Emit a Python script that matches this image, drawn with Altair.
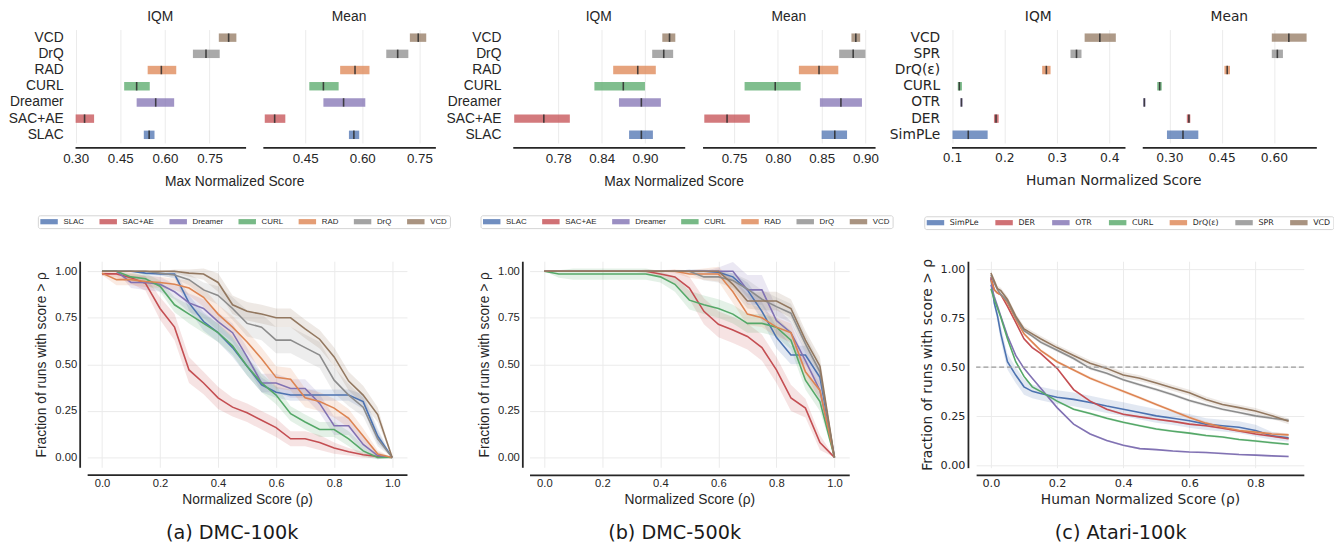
import altair as alt
import pandas as pd

# ---------------- categories ----------------
DMC_METHODS = ["VCD", "DrQ", "RAD", "CURL", "Dreamer", "SAC+AE", "SLAC"]
ATARI_METHODS = ["VCD", "SPR", "DrQ(ε)", "CURL", "OTR", "DER", "SimPLe"]
DMC_LEGEND = ["SLAC", "SAC+AE", "Dreamer", "CURL", "RAD", "DrQ", "VCD"]
ATARI_LEGEND = ["SimPLe", "DER", "OTR", "CURL", "DrQ(ε)", "SPR", "VCD"]
PALETTE = ["#4C72B0", "#C44E52", "#8172B3", "#55A868", "#DD8452", "#8C8C8C", "#937860"]

# ---------------- interval estimates (rows top -> bottom) ----------------
A_IQM_LO = [0.781, 0.694, 0.542, 0.463, 0.505, 0.300, 0.529]
A_IQM_HI = [0.840, 0.784, 0.638, 0.549, 0.631, 0.362, 0.565]
A_IQM_MID = [0.814, 0.738, 0.588, 0.505, 0.569, 0.330, 0.547]
A_MEAN_LO = [0.725, 0.663, 0.542, 0.461, 0.498, 0.344, 0.565]
A_MEAN_HI = [0.768, 0.721, 0.619, 0.538, 0.608, 0.398, 0.592]
A_MEAN_MID = [0.747, 0.693, 0.581, 0.498, 0.551, 0.370, 0.578]

B_IQM_LO = [0.924, 0.910, 0.856, 0.830, 0.864, 0.719, 0.878]
B_IQM_HI = [0.942, 0.939, 0.915, 0.900, 0.922, 0.796, 0.911]
B_IQM_MID = [0.934, 0.926, 0.890, 0.870, 0.895, 0.760, 0.895]
B_MEAN_LO = [0.884, 0.870, 0.824, 0.762, 0.848, 0.716, 0.850]
B_MEAN_HI = [0.894, 0.900, 0.869, 0.826, 0.896, 0.768, 0.879]
B_MEAN_MID = [0.889, 0.886, 0.847, 0.797, 0.872, 0.742, 0.865]

C_IQM_LO = [0.353, 0.326, 0.272, 0.111, 0.116, 0.180, 0.101]
C_IQM_HI = [0.4125, 0.347, 0.288, 0.119, 0.120, 0.189, 0.168]
C_IQM_MID = [0.382, 0.3375, 0.280, 0.114, 0.118, 0.184, 0.131]
C_MEAN_LO = [0.594, 0.594, 0.458, 0.265, 0.225, 0.350, 0.293]
C_MEAN_HI = [0.694, 0.626, 0.474, 0.278, 0.231, 0.360, 0.383]
C_MEAN_MID = [0.643, 0.610, 0.466, 0.272, 0.228, 0.356, 0.339]

# tick labels
A_IQM_TICKS = [0.30, 0.45, 0.60, 0.75]
A_MEAN_TICKS = [0.45, 0.60, 0.75]
B_IQM_TICKS = [0.78, 0.84, 0.90]
B_MEAN_TICKS = [0.75, 0.80, 0.85, 0.90]
C_IQM_TICKS = [0.1, 0.2, 0.3, 0.4]
C_MEAN_TICKS = [0.30, 0.45, 0.60]
PROFILE_X_TICKS = [0.0, 0.2, 0.4, 0.6, 0.8, 1.0]
ATARI_X_TICKS = [0.0, 0.2, 0.4, 0.6, 0.8]
PROFILE_Y_TICKS = [0.0, 0.25, 0.5, 0.75, 1.0]

# ---------------- performance profiles ----------------
TAU_DMC = [0.0, 0.05, 0.1, 0.15, 0.2, 0.25, 0.3, 0.35, 0.4, 0.45, 0.5,
           0.55, 0.6, 0.65, 0.7, 0.75, 0.8, 0.85, 0.9, 0.95, 1.0]

A_CURVES = {
    "SLAC":    [1.0, 1.0, 1.0, 0.99, 0.985, 0.985, 0.83, 0.73, 0.67, 0.59, 0.49, 0.39, 0.35, 0.335, 0.335, 0.335, 0.335, 0.335, 0.30, 0.115, 0.0],
    "SAC+AE":  [0.986, 0.986, 0.965, 0.935, 0.80, 0.70, 0.47, 0.40, 0.32, 0.27, 0.24, 0.20, 0.16, 0.10, 0.10, 0.08, 0.05, 0.03, 0.014, 0.005, 0.0],
    "Dreamer": [1.0, 1.0, 0.94, 0.94, 0.93, 0.89, 0.83, 0.80, 0.73, 0.67, 0.54, 0.40, 0.40, 0.37, 0.37, 0.29, 0.17, 0.17, 0.07, 0.01, 0.0],
    "CURL":    [1.0, 1.0, 0.97, 0.96, 0.92, 0.82, 0.77, 0.72, 0.67, 0.60, 0.49, 0.40, 0.335, 0.235, 0.19, 0.15, 0.15, 0.10, 0.035, 0.0, 0.0],
    "RAD":     [0.99, 0.955, 0.955, 0.945, 0.94, 0.93, 0.91, 0.86, 0.77, 0.70, 0.62, 0.53, 0.43, 0.42, 0.32, 0.30, 0.265, 0.21, 0.115, 0.018, 0.0],
    "DrQ":     [1.0, 1.0, 1.0, 1.0, 0.99, 0.98, 0.955, 0.90, 0.87, 0.80, 0.72, 0.70, 0.63, 0.63, 0.59, 0.55, 0.415, 0.335, 0.27, 0.10, 0.0],
    "VCD":     [1.0, 1.0, 1.0, 1.0, 1.0, 1.0, 0.99, 0.985, 0.94, 0.82, 0.785, 0.77, 0.75, 0.75, 0.69, 0.635, 0.54, 0.41, 0.335, 0.23, 0.0],
}
A_BANDS = {
    "SLAC":    [0.0, 0.0, 0.0, 0.01, 0.01, 0.02, 0.04, 0.05, 0.05, 0.05, 0.05, 0.04, 0.03, 0.03, 0.03, 0.03, 0.03, 0.03, 0.04, 0.04, 0.0],
    "SAC+AE":  [0.01, 0.02, 0.03, 0.04, 0.06, 0.07, 0.07, 0.06, 0.06, 0.05, 0.05, 0.05, 0.05, 0.04, 0.04, 0.04, 0.03, 0.02, 0.015, 0.01, 0.0],
    "Dreamer": [0.0, 0.0, 0.03, 0.04, 0.04, 0.04, 0.05, 0.05, 0.05, 0.05, 0.05, 0.05, 0.05, 0.05, 0.05, 0.05, 0.05, 0.05, 0.04, 0.02, 0.0],
    "CURL":    [0.0, 0.0, 0.02, 0.03, 0.03, 0.04, 0.05, 0.05, 0.05, 0.05, 0.05, 0.05, 0.05, 0.04, 0.04, 0.04, 0.04, 0.04, 0.03, 0.01, 0.0],
    "RAD":     [0.01, 0.03, 0.03, 0.03, 0.03, 0.03, 0.04, 0.05, 0.05, 0.06, 0.06, 0.06, 0.06, 0.06, 0.05, 0.05, 0.05, 0.05, 0.04, 0.02, 0.0],
    "DrQ":     [0.0, 0.0, 0.0, 0.0, 0.01, 0.02, 0.03, 0.04, 0.05, 0.06, 0.07, 0.07, 0.07, 0.07, 0.07, 0.07, 0.07, 0.06, 0.05, 0.04, 0.0],
    "VCD":     [0.0, 0.0, 0.0, 0.0, 0.0, 0.01, 0.02, 0.03, 0.05, 0.05, 0.05, 0.05, 0.05, 0.05, 0.05, 0.05, 0.05, 0.05, 0.05, 0.04, 0.0],
}

B_CURVES = {
    "SLAC":    [1.0, 1.0, 1.0, 1.0, 1.0, 1.0, 1.0, 1.0, 1.0, 1.0, 1.0, 1.0, 0.995, 0.97, 0.90, 0.785, 0.645, 0.55, 0.55, 0.43, 0.0],
    "SAC+AE":  [1.0, 1.0, 1.0, 1.0, 1.0, 1.0, 1.0, 1.0, 0.985, 0.97, 0.91, 0.785, 0.715, 0.685, 0.65, 0.59, 0.47, 0.32, 0.265, 0.08, 0.0],
    "Dreamer": [1.0, 1.0, 1.0, 1.0, 1.0, 1.0, 1.0, 1.0, 1.0, 1.0, 1.0, 1.0, 1.0, 1.0, 0.90, 0.90, 0.735, 0.67, 0.52, 0.36, 0.0],
    "CURL":    [1.0, 0.985, 0.985, 0.985, 0.985, 0.985, 0.985, 0.985, 0.97, 0.93, 0.845, 0.82, 0.80, 0.77, 0.72, 0.72, 0.70, 0.63, 0.415, 0.30, 0.0],
    "RAD":     [1.0, 1.0, 1.0, 1.0, 1.0, 1.0, 1.0, 1.0, 1.0, 1.0, 0.985, 0.985, 0.985, 0.89, 0.77, 0.75, 0.70, 0.67, 0.46, 0.36, 0.0],
    "DrQ":     [1.0, 1.0, 1.0, 1.0, 1.0, 1.0, 1.0, 1.0, 1.0, 1.0, 1.0, 0.97, 0.97, 0.95, 0.905, 0.85, 0.81, 0.775, 0.61, 0.46, 0.0],
    "VCD":     [1.0, 1.0, 1.0, 1.0, 1.0, 1.0, 1.0, 1.0, 1.0, 1.0, 1.0, 1.0, 1.0, 0.93, 0.84, 0.84, 0.84, 0.80, 0.63, 0.49, 0.0],
}
B_BANDS = {
    "SLAC":    [0.0, 0.0, 0.0, 0.0, 0.0, 0.0, 0.0, 0.0, 0.0, 0.0, 0.01, 0.01, 0.01, 0.02, 0.04, 0.05, 0.06, 0.05, 0.05, 0.05, 0.0],
    "SAC+AE":  [0.0, 0.0, 0.0, 0.0, 0.0, 0.0, 0.0, 0.01, 0.02, 0.04, 0.06, 0.07, 0.07, 0.07, 0.07, 0.07, 0.07, 0.07, 0.05, 0.04, 0.0],
    "Dreamer": [0.0, 0.0, 0.0, 0.0, 0.0, 0.0, 0.0, 0.0, 0.0, 0.0, 0.0, 0.0, 0.02, 0.05, 0.08, 0.08, 0.07, 0.06, 0.06, 0.06, 0.0],
    "CURL":    [0.0, 0.02, 0.03, 0.03, 0.03, 0.03, 0.03, 0.03, 0.03, 0.04, 0.05, 0.05, 0.05, 0.05, 0.05, 0.05, 0.05, 0.05, 0.05, 0.05, 0.0],
    "RAD":     [0.0, 0.0, 0.0, 0.0, 0.0, 0.0, 0.0, 0.0, 0.0, 0.01, 0.02, 0.03, 0.04, 0.06, 0.06, 0.05, 0.05, 0.05, 0.05, 0.04, 0.0],
    "DrQ":     [0.0, 0.0, 0.0, 0.0, 0.0, 0.0, 0.0, 0.0, 0.0, 0.0, 0.01, 0.02, 0.03, 0.04, 0.05, 0.05, 0.05, 0.05, 0.05, 0.05, 0.0],
    "VCD":     [0.0, 0.0, 0.0, 0.0, 0.0, 0.0, 0.0, 0.0, 0.0, 0.0, 0.0, 0.0, 0.01, 0.03, 0.04, 0.05, 0.05, 0.05, 0.05, 0.05, 0.0],
}

TAU_ATARI = [0.0, 0.01, 0.02, 0.03, 0.05, 0.075, 0.1, 0.125, 0.15, 0.2, 0.25, 0.3,
             0.35, 0.4, 0.45, 0.5, 0.55, 0.6, 0.65, 0.7, 0.75, 0.8, 0.85, 0.9]
C_CURVES = {
    "SimPLe": [0.953, 0.828, 0.76, 0.67, 0.528, 0.46, 0.40, 0.377, 0.366, 0.347, 0.336, 0.32, 0.302, 0.286, 0.269, 0.252, 0.24, 0.227, 0.21, 0.202, 0.194, 0.177, 0.15, 0.14],
    "DER":    [0.96, 0.895, 0.878, 0.87, 0.81, 0.728, 0.645, 0.60, 0.57, 0.494, 0.386, 0.327, 0.286, 0.26, 0.247, 0.235, 0.224, 0.21, 0.202, 0.189, 0.175, 0.16, 0.148, 0.135],
    "OTR":    [0.92, 0.86, 0.81, 0.76, 0.66, 0.56, 0.494, 0.444, 0.394, 0.294, 0.21, 0.16, 0.127, 0.102, 0.085, 0.08, 0.073, 0.068, 0.065, 0.06, 0.055, 0.052, 0.048, 0.045],
    "CURL":   [0.90, 0.845, 0.80, 0.753, 0.645, 0.528, 0.453, 0.40, 0.377, 0.327, 0.286, 0.264, 0.24, 0.219, 0.202, 0.185, 0.174, 0.164, 0.152, 0.144, 0.132, 0.124, 0.115, 0.107],
    "DrQ(ε)": [0.945, 0.895, 0.878, 0.87, 0.828, 0.745, 0.67, 0.628, 0.586, 0.528, 0.486, 0.444, 0.41, 0.377, 0.344, 0.31, 0.277, 0.244, 0.215, 0.194, 0.177, 0.169, 0.16, 0.155],
    "SPR":    [0.97, 0.93, 0.895, 0.87, 0.836, 0.753, 0.686, 0.658, 0.628, 0.586, 0.544, 0.494, 0.469, 0.436, 0.41, 0.386, 0.36, 0.33, 0.307, 0.286, 0.269, 0.252, 0.24, 0.23],
    "VCD":    [0.98, 0.94, 0.90, 0.89, 0.845, 0.76, 0.695, 0.67, 0.645, 0.60, 0.56, 0.52, 0.494, 0.46, 0.444, 0.42, 0.394, 0.37, 0.336, 0.31, 0.294, 0.277, 0.252, 0.224],
}
C_BANDS = {
    "SimPLe": [0.01, 0.02, 0.03, 0.04, 0.04, 0.04, 0.04, 0.035, 0.035, 0.035, 0.035, 0.035, 0.035, 0.035, 0.035, 0.035, 0.035, 0.035, 0.03, 0.03, 0.03, 0.03, 0.02, 0.02],
    "DER":    [0.005, 0.005, 0.005, 0.005, 0.005, 0.005, 0.005, 0.005, 0.005, 0.005, 0.005, 0.005, 0.005, 0.005, 0.005, 0.005, 0.005, 0.005, 0.005, 0.005, 0.005, 0.005, 0.005, 0.005],
    "OTR":    [0.005, 0.005, 0.005, 0.005, 0.005, 0.005, 0.005, 0.005, 0.005, 0.005, 0.005, 0.005, 0.005, 0.005, 0.005, 0.005, 0.005, 0.005, 0.005, 0.005, 0.005, 0.005, 0.005, 0.005],
    "CURL":   [0.006, 0.006, 0.006, 0.006, 0.006, 0.006, 0.006, 0.006, 0.006, 0.006, 0.006, 0.006, 0.006, 0.006, 0.006, 0.006, 0.006, 0.006, 0.006, 0.006, 0.006, 0.006, 0.006, 0.006],
    "DrQ(ε)": [0.008, 0.008, 0.008, 0.008, 0.008, 0.008, 0.008, 0.008, 0.008, 0.008, 0.008, 0.008, 0.008, 0.008, 0.008, 0.008, 0.008, 0.008, 0.008, 0.008, 0.008, 0.008, 0.008, 0.008],
    "SPR":    [0.008, 0.008, 0.008, 0.008, 0.008, 0.008, 0.008, 0.008, 0.008, 0.008, 0.008, 0.008, 0.008, 0.008, 0.008, 0.008, 0.008, 0.008, 0.008, 0.008, 0.008, 0.008, 0.008, 0.008],
    "VCD":    [0.01, 0.015, 0.015, 0.015, 0.015, 0.015, 0.015, 0.015, 0.015, 0.015, 0.015, 0.015, 0.015, 0.015, 0.015, 0.015, 0.015, 0.015, 0.015, 0.015, 0.015, 0.015, 0.015, 0.015],
}
REFERENCE_LEVEL = [0.5]

# ---------------- styling ----------------
TEXT = "#262626"
GRID = "#EBEBEB"
ARIAL = "Liberation Sans"
DEJAVU = "DejaVu Sans"
CAPTION_FONT = "DejaVu Sans"
LEGEND_SYMBOL = "M-1,-0.66H3.425V0.66H-1Z"


def interval_panel(methods, lo, hi, mid, color_domain, title, xdomain, ticks, fmt,
                   width, font, tick_size, show_labels):
    df = pd.DataFrame({"method": methods, "lo": lo, "hi": hi, "mid": mid})
    if show_labels:
        yaxis = alt.Axis(title=None, domain=False, ticks=False, grid=False, labelPadding=12,
                         labelFont=font, labelFontSize=14, labelColor=TEXT)
    else:
        yaxis = None
    y = alt.Y("method:N", sort=methods, title=None,
              scale=alt.Scale(paddingInner=0.48, paddingOuter=0.24), axis=yaxis)
    xaxis = alt.Axis(values=ticks, format=fmt, title=None, ticks=False, domainColor=TEXT,
                     domainWidth=1.6, offset=4.5, labelPadding=4, labelFont=font,
                     labelFontSize=tick_size, labelColor=TEXT, grid=True, gridColor=GRID,
                     labelFlush=False)
    xs = alt.Scale(domain=xdomain, nice=False, zero=False)
    color = alt.Color("method:N", scale=alt.Scale(domain=color_domain, range=PALETTE), legend=None)
    base = alt.Chart(df)
    bars = base.mark_bar(opacity=0.75).encode(
        x=alt.X("lo:Q", scale=xs, axis=xaxis), x2="hi:Q", y=y, color=color)
    med = base.mark_tick(color="#2b2b2b", thickness=1.6, size=8.6, opacity=0.85).encode(
        x=alt.X("mid:Q", scale=xs, axis=xaxis), y=y)
    return alt.layer(bars, med).properties(
        width=width, height=115,
        title=alt.TitleParams(title, font=font, fontSize=14, fontWeight="normal",
                              color=TEXT, offset=6))


def pair(left, right, xtitle, font, dx):
    return alt.hconcat(left, right, spacing=17.5, title=alt.TitleParams(
        xtitle, orient="bottom", anchor="middle", font=font, fontSize=14,
        fontWeight="normal", color=TEXT, offset=11, dx=dx)
    ).resolve_scale(color="independent", x="independent")


def profile_panel(taus, curves, bands, order, xdomain, xrange, width, height, ydomain,
                  xticks, xtitle, font, lx, ly, col_pad, yoffset, xoffset, caption, cap_dx,
                  ref_level=None):
    rows = []
    for m in order:
        for t, v, h in zip(taus, curves[m], bands[m]):
            rows.append({"method": m, "tau": t, "y": v, "lo": v - h, "hi": v + h})
    df = pd.DataFrame(rows)
    xs_kw = dict(domain=xdomain, nice=False, zero=False)
    if xrange is not None:
        xs_kw["range"] = xrange
    xs = alt.Scale(**xs_kw)
    ys = alt.Scale(domain=ydomain, nice=False, zero=False)
    xaxis = alt.Axis(values=xticks, format=".1f", title=xtitle, ticks=False, domainColor=TEXT,
                     domainWidth=1.8, offset=xoffset, labelPadding=3, titlePadding=4,
                     labelFont=font, labelFontSize=11.4, labelColor=TEXT, titleFont=font,
                     titleFontSize=14, titleFontWeight="normal", titleColor=TEXT,
                     grid=True, gridColor=GRID, labelFlush=False)
    yaxis = alt.Axis(values=PROFILE_Y_TICKS, format=".2f", title="Fraction of runs with score > ρ",
                     ticks=False, domainColor=TEXT, domainWidth=1.8, offset=yoffset,
                     labelPadding=3, titlePadding=6, labelFont=font, labelFontSize=11.4,
                     labelColor=TEXT, titleFont=font, titleFontSize=14,
                     titleFontWeight="normal", titleColor=TEXT, grid=True, gridColor=GRID,
                     labelFlush=False)
    legend = alt.Legend(orient="none", legendX=lx, legendY=ly, direction="horizontal",
                        title=None, columns=7, symbolType=LEGEND_SYMBOL, symbolSize=64,
                        symbolStrokeWidth=0, symbolOpacity=0.8, labelFont=font,
                        labelFontSize=8, labelColor=TEXT, labelOffset=15.4,
                        columnPadding=col_pad, strokeColor="#d4d4d4", fillColor="white",
                        padding=2.5, cornerRadius=2)
    color = alt.Color("method:N", scale=alt.Scale(domain=order, range=PALETTE), legend=legend)
    base = alt.Chart(df)
    band = base.mark_area(fillOpacity=0.16).encode(
        x=alt.X("tau:Q", scale=xs, axis=xaxis),
        y=alt.Y("lo:Q", scale=ys, axis=yaxis), y2="hi:Q", color=color)
    line = base.mark_line(strokeWidth=1.6).encode(
        x=alt.X("tau:Q", scale=xs, axis=xaxis),
        y=alt.Y("y:Q", scale=ys, axis=yaxis), color=color)
    layers = [band, line]
    if ref_level is not None:
        rule = alt.Chart(pd.DataFrame({"y": ref_level})).mark_rule(
            strokeDash=[5, 3], color="#9a9a9a", strokeWidth=1.3).encode(
            y=alt.Y("y:Q", scale=ys, axis=yaxis))
        layers.append(rule)
    return alt.layer(*layers).properties(
        width=width, height=height,
        title=alt.TitleParams(caption, orient="bottom", anchor="middle", frame="group",
                              dx=cap_dx, offset=18, font=CAPTION_FONT, fontSize=19.5,
                              fontWeight="normal", color="#1a1a1a"))


# ---------------- top row ----------------
iqm_a = interval_panel(DMC_METHODS, A_IQM_LO, A_IQM_HI, A_IQM_MID, DMC_LEGEND, "IQM",
                       [0.298, 0.871], A_IQM_TICKS, ".2f", 173, ARIAL, 13.5, True)
mean_a = interval_panel(DMC_METHODS, A_MEAN_LO, A_MEAN_HI, A_MEAN_MID, DMC_LEGEND, "Mean",
                        [0.339, 0.792], A_MEAN_TICKS, ".2f", 175, ARIAL, 13.5, False)
iqm_b = interval_panel(DMC_METHODS, B_IQM_LO, B_IQM_HI, B_IQM_MID, DMC_LEGEND, "IQM",
                       [0.717, 0.955], B_IQM_TICKS, ".2f", 174.4, ARIAL, 13.5, True)
mean_b = interval_panel(DMC_METHODS, B_MEAN_LO, B_MEAN_HI, B_MEAN_MID, DMC_LEGEND, "Mean",
                        [0.714, 0.911], B_MEAN_TICKS, ".2f", 175, ARIAL, 13.5, False)
iqm_c = interval_panel(ATARI_METHODS, C_IQM_LO, C_IQM_HI, C_IQM_MID, ATARI_LEGEND, "IQM",
                       [0.099, 0.43], C_IQM_TICKS, ".1f", 176, DEJAVU, 12.5, True)
mean_c = interval_panel(ATARI_METHODS, C_MEAN_LO, C_MEAN_HI, C_MEAN_MID, ATARI_LEGEND, "Mean",
                        [0.222, 0.722], C_MEAN_TICKS, ".2f", 176.6, DEJAVU, 12.5, False)

pair_a = pair(iqm_a, mean_a, "Max Normalized Score", ARIAL, 13)
pair_b = pair(iqm_b, mean_b, "Max Normalized Score", ARIAL, 12)
pair_c = pair(iqm_c, mean_c, "Human Normalized Score", DEJAVU, 11)

# ---------------- bottom row ----------------
prof_a = profile_panel(TAU_DMC, A_CURVES, A_BANDS, DMC_LEGEND, [-0.051, 1.051], [12.3, 336.7],
                       336.7, 209, [-0.053, 1.054], PROFILE_X_TICKS, "Normalized Score (ρ)",
                       ARIAL, -37.7, -46.6, 15.0, -4.7, 7.4, "(a) DMC-100k", -9)
prof_b = profile_panel(TAU_DMC, B_CURVES, B_BANDS, DMC_LEGEND, [-0.051, 1.051], None,
                       324.3, 209, [-0.053, 1.054], PROFILE_X_TICKS, "Normalized Score (ρ)",
                       ARIAL, -49.7, -46.6, 15.0, 7.3, 7.7, "(b) DMC-500k", -15)
prof_c = profile_panel(TAU_ATARI, C_CURVES, C_BANDS, ATARI_LEGEND, [-0.0447, 0.946], None,
                       332.4, 209.4, [-0.012, 1.040], ATARI_X_TICKS,
                       "Human Normalized Score (ρ)", DEJAVU, -52.6, -45.6, 16.6, 8.3, 7.3,
                       "(c) Atari-100k", -19.5, ref_level=REFERENCE_LEVEL)

row1 = alt.hconcat(pair_a, pair_b, pair_c, spacing=10).resolve_scale(color="independent", x="independent")
row2 = alt.hconcat(prof_a, prof_b, prof_c, spacing=27).resolve_scale(
    color="independent", x="independent", y="independent").resolve_legend(color="independent")

chart = alt.vconcat(row1, row2, spacing=25).resolve_scale(
    color="independent", x="independent", y="independent").resolve_legend(
    color="independent").properties(
    padding={"top": -2, "bottom": 0, "left": 0, "right": 0}).configure_view(strokeWidth=0)

chart.save("out.html", embed_options={"renderer": "svg", "actions": False})
